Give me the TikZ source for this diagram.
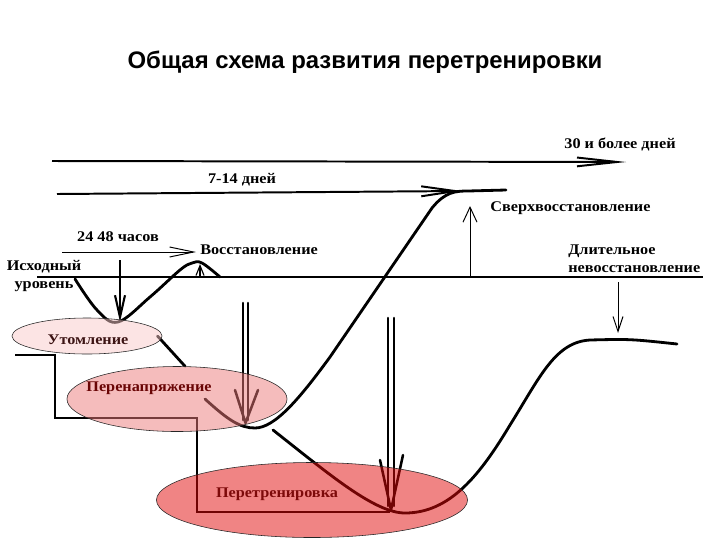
\documentclass[tikz,border=0pt]{standalone}
\usepackage{fontspec}
\setmainfont{Liberation Serif}
\newfontfamily\lblfont{Liberation Serif}[FakeStretch=1.1]
\newfontfamily\titlefont{Liberation Sans}
\usetikzlibrary{shapes.geometric, arrows.meta, positioning}
\pgfdeclarelayer{front}
\pgfdeclarelayer{top}
\pgfsetlayers{main,front,top}
\definecolor{utfill}{RGB}{249,201,201}
\definecolor{pnfill}{RGB}{236,121,121}
\definecolor{ptfill}{RGB}{225,9,9}
\definecolor{uttext}{RGB}{60,20,20}
\definecolor{pntext}{RGB}{105,5,5}
\definecolor{pttext}{RGB}{125,10,10}

\begin{document}
\begin{tikzpicture}[x=0.025cm, y=-0.025cm,
    lbl/.style={font=\lblfont\bfseries\fontsize{10.5}{12.5}\selectfont, inner sep=0pt, align=center},
    zone/.style={ellipse, draw=black!85, thin, fill opacity=0.5, inner sep=0pt},
    curve/.style={line width=2pt, line cap=round, line join=round},
    period/.style={line width=1.4pt},
    bigarrow/.style={line width=1.8pt, line cap=round, line join=round},
    thinarrow/.style={line width=0.7pt, -{Straight Barb[length=3.75mm, width=#1]}}
]
    \useasboundingbox (0,0) rectangle (720,540);

    % zones of the process
    \begin{pgfonlayer}{front}
        \node[zone, fill=utfill, minimum width=3.75cm, minimum height=0.9cm] (ut) at (87,336) {};
        \node[zone, fill=pnfill, minimum width=5.5cm, minimum height=1.625cm] (perenap) at (177,399) {};
        \node[zone, fill=ptfill, minimum width=7.775cm, minimum height=1.875cm] (peretr) at (312,500) {};
    \end{pgfonlayer}

    \node[font=\titlefont\bfseries\fontsize{17}{20}\selectfont] (title) at (365,62) {Общая схема развития перетренировки};

    % time spans
    \coordinate (p30a) at (52,161);
    \coordinate (p30b) at (626,162);
    \coordinate (p714a) at (57,194);
    \coordinate (p714b) at (462,191);
    \coordinate (p2448a) at (62,252);
    \coordinate (p2448b) at (196,252);
    \draw[period, -{Straight Barb[length=10mm, width=2.2mm]}] (p30a) -- (p30b);
    \draw[period, -{Straight Barb[length=8.5mm, width=2.5mm]}] (p714a) -- (p714b);
    \draw[line width=0.7pt, -{Straight Barb[length=6mm, width=2.5mm]}] (p2448a) -- (p2448b);
    \node[lbl] (d30) at (620,144) {30 и более дней};
    \node[lbl] (d714) at (242,180) {7-14 дней};
    \node[lbl] (d2448) at (118,237) {24 48 часов};

    % baseline
    \coordinate (base0) at (37,277);
    \coordinate (base1) at (703,277);
    \draw[line width=0.8pt] (base0) -- (base1);
    \node[lbl] (iskh) at (44,276) {Исходный\\уровень};

    % curves
    \draw[curve] plot[smooth, tension=0.6] coordinates {(75,279) (97,310) (118,322) (150,297) (180,270) (192,263) (202,263) (220,277)};
    \draw[curve] (205,399) .. controls (228,420) and (240,428) .. (255,428)
        .. controls (275,428) and (300,398) .. (330,357) -- (432,208)
        .. controls (445,192) and (455,191) .. (468,191) -- (506,190);
    \draw[curve] (273,430) .. controls (330,475) and (375,513) .. (405,513)
        .. controls (450,513) and (480,475) .. (510,425)
        .. controls (540,377) and (555,342) .. (590,340)
        .. controls (630,339) .. (677,344);

    % arrows
    \draw[line width=1.5pt, -{Straight Barb[length=5.5mm, width=2.5mm]}] (120,260) -- (120,322);
    \draw[line width=0.8pt, -{Straight Barb[length=2.5mm, width=2mm]}] (200,277) -- (200,264);
    \draw[thinarrow=3.5mm] (470,277) -- (470,206);
    \draw[thinarrow=2.5mm] (618,282) -- (618,333);

    \draw[bigarrow] (243,303) -- (243,420) (248,303) -- (248,420);
    \draw[bigarrow] (235,390) -- (245.5,423) -- (258,390);
    \draw[bigarrow] (388,318) -- (388,506) (394,318) -- (394,506);
    \draw[bigarrow] (380,460) -- (391,510) -- (403,455);

    % links between zones
    \draw[line width=0.9pt] (15,355) -- (55,355) -- (55,418) -- (197,418) -- (197,512) -- (390,512);
    \draw[curve] ([xshift=-0.12cm]ut.east) -- ([xshift=0.2cm]perenap.north);

    \node[lbl, anchor=west] (vosst) at (200,250) {Восстановление};
    \node[lbl, anchor=west] (sverkh) at (490,208) {Сверхвосстановление};
    \node[lbl, anchor=west, align=left] (dlit) at (568,259) {Длительное\\невосстановление};

    \begin{pgfonlayer}{top}
        \node[lbl, text=uttext] (utl) at (88,340) {Утомление};
        \node[lbl, text=pntext] (pnl) at (149,388) {Перенапряжение};
        \node[lbl, text=pttext] (ptl) at (277,494) {Перетренировка};
    \end{pgfonlayer}
\end{tikzpicture}
\end{document}
